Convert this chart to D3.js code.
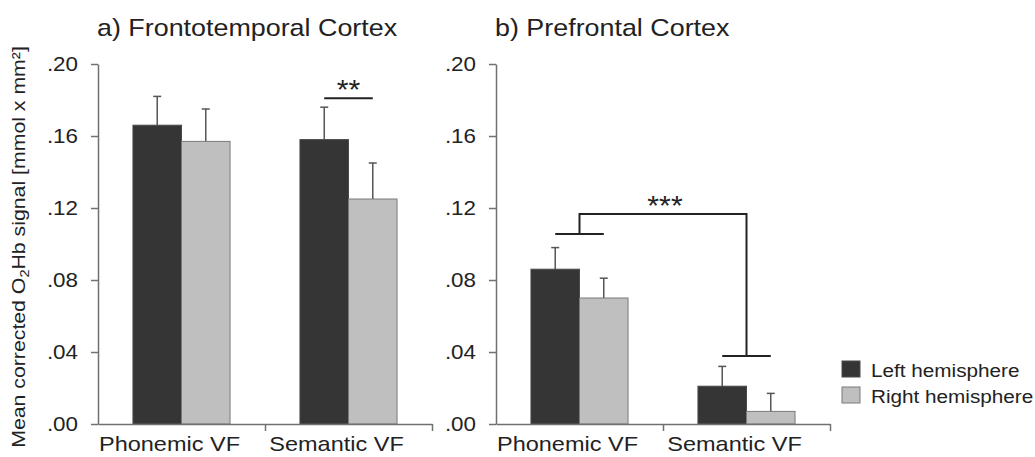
<!DOCTYPE html>
<html>
<head>
<meta charset="utf-8">
<script src="https://cdn.jsdelivr.net/npm/d3@7"></script>
<style>
  html, body { margin: 0; padding: 0; background: #fff; }
  svg { display: block; }
  text { font-family: "Liberation Sans", Arial, sans-serif; fill: #222; }
</style>
</head>
<body>
<div id="chart"></div>
<script>
const categories = ['Phonemic VF', 'Semantic VF'];
const series = ['Left hemisphere', 'Right hemisphere'];
const yTicks = [0, 0.04, 0.08, 0.12, 0.16, 0.20];

// a) Frontotemporal cortex
const frontoLeft = [0.166, 0.158];
const frontoLeftErr = [0.016, 0.018];
const frontoRight = [0.157, 0.125];
const frontoRightErr = [0.018, 0.020];

// b) Prefrontal cortex
const prefLeft = [0.086, 0.021];
const prefLeftErr = [0.012, 0.011];
const prefRight = [0.070, 0.007];
const prefRightErr = [0.011, 0.010];

// significance markers
const frontoSigLevel = 0.181;            // ** between hemispheres, Semantic VF
const prefSigLevels = [0.1056, 0.0378];  // group bars of *** bracket
const prefSigTop = 0.1167;

const colors = { 'Left hemisphere': '#353535', 'Right hemisphere': '#bfbfbf' };
const strokes = { 'Left hemisphere': '#4a4a4a', 'Right hemisphere': '#7a7a7a' };
const stretch = 1.12; // the original text is a bit wide

const svg = d3.select('#chart').append('svg')
  .attr('width', 1035)
  .attr('height', 457);

const y = d3.scaleLinear().domain([0, 0.20]).range([424, 64]);
const fmt = d => d3.format('.2f')(d).replace(/^0/, '');

function drawPanel(p) {
  const g = svg.append('g');
  const x0 = d3.scaleBand().domain(categories).range(p.range);
  const x1 = d3.scaleBand().domain(series).range([0, x0.bandwidth()]).paddingOuter(0.72);
  const xb = d3.scaleLinear().domain([0, categories.length]).range(p.range);
  const bw = x1.bandwidth();

  g.append('text')
    .attr('transform', `translate(${p.range[0] - 1},36) scale(${stretch},1)`)
    .style('font-size', '24px')
    .text(p.title);

  const rows = [];
  categories.forEach((c, i) => {
    series.forEach((s, j) => {
      rows.push({ cat: c, ser: s, value: p.values[j][i], err: p.errors[j][i] });
    });
  });

  // error bars (upper only)
  const eb = g.selectAll('.eb').data(rows).enter().append('g')
    .attr('stroke', '#555').attr('stroke-width', 1.5).attr('fill', 'none');
  eb.append('line')
    .attr('x1', d => x0(d.cat) + x1(d.ser) + bw / 2)
    .attr('x2', d => x0(d.cat) + x1(d.ser) + bw / 2)
    .attr('y1', d => y(d.value))
    .attr('y2', d => y(d.value + d.err));
  eb.append('line')
    .attr('x1', d => x0(d.cat) + x1(d.ser) + bw / 2 - 4)
    .attr('x2', d => x0(d.cat) + x1(d.ser) + bw / 2 + 4)
    .attr('y1', d => y(d.value + d.err))
    .attr('y2', d => y(d.value + d.err));

  g.selectAll('.bar').data(rows).enter().append('rect')
    .attr('x', d => x0(d.cat) + x1(d.ser))
    .attr('y', d => y(d.value))
    .attr('width', bw)
    .attr('height', d => y(0) - y(d.value))
    .attr('fill', d => colors[d.ser])
    .attr('stroke', d => strokes[d.ser])
    .attr('stroke-width', 1);

  // y axis
  const ya = g.append('g')
    .attr('transform', `translate(${p.range[0]},0)`)
    .call(d3.axisLeft(y).tickValues(yTicks).tickFormat(fmt).tickSize(7).tickSizeOuter(0));
  ya.selectAll('path, line').attr('stroke', '#707070').attr('stroke-width', 1.5);
  ya.selectAll('text')
    .attr('x', -20 / stretch)
    .attr('transform', `scale(${stretch},1)`)
    .style('font-size', '20px')
    .attr('fill', '#222');

  // x axis with ticks at category boundaries
  const xa = g.append('g')
    .attr('transform', `translate(0,${y(0)})`)
    .call(d3.axisBottom(xb).tickValues(d3.range(1, categories.length + 1)).tickFormat('').tickSize(7).tickSizeOuter(0));
  xa.selectAll('path, line').attr('stroke', '#707070').attr('stroke-width', 1.5);

  const xl = g.append('g')
    .attr('transform', `translate(0,${y(0)})`)
    .call(d3.axisBottom(x0).tickSize(0).tickPadding(12));
  xl.select('.domain').remove();
  xl.selectAll('text')
    .attr('x', -12 / stretch)
    .attr('transform', `scale(${stretch},1)`)
    .style('font-size', '21px')
    .attr('fill', '#222');

  p.sig(g, x0, x1, bw);
}

function stars(g, x, yy, label) {
  g.append('text')
    .attr('transform', `translate(${x},${yy}) scale(${stretch},1)`)
    .attr('text-anchor', 'middle')
    .style('font-size', '27px')
    .text(label);
}

drawPanel({
  title: 'a) Frontotemporal Cortex',
  range: [98, 432],
  values: [frontoLeft, frontoRight],
  errors: [frontoLeftErr, frontoRightErr],
  sig: (g, x0, x1, bw) => {
    const c = categories[1];
    const xa = x0(c) + x1(series[0]) + bw / 2;
    const xb = x0(c) + x1(series[1]) + bw / 2;
    g.append('line')
      .attr('x1', xa).attr('x2', xb)
      .attr('y1', y(frontoSigLevel)).attr('y2', y(frontoSigLevel))
      .attr('stroke', '#222').attr('stroke-width', 2);
    stars(g, (xa + xb) / 2, y(frontoSigLevel) + 1, '**');
  }
});

drawPanel({
  title: 'b) Prefrontal Cortex',
  range: [496, 830],
  values: [prefLeft, prefRight],
  errors: [prefLeftErr, prefRightErr],
  sig: (g, x0, x1, bw) => {
    const path = d3.path();
    const centers = categories.map(c => x0(c) + x0.bandwidth() / 2);
    categories.forEach((c, i) => {
      path.moveTo(x0(c) + x1(series[0]) + bw / 2, y(prefSigLevels[i]));
      path.lineTo(x0(c) + x1(series[1]) + bw / 2, y(prefSigLevels[i]));
    });
    path.moveTo(centers[0], y(prefSigLevels[0]));
    path.lineTo(centers[0], y(prefSigTop));
    path.lineTo(centers[1], y(prefSigTop));
    path.lineTo(centers[1], y(prefSigLevels[1]));
    g.append('path').attr('d', path.toString())
      .attr('fill', 'none').attr('stroke', '#222').attr('stroke-width', 2);
    stars(g, (centers[0] + centers[1]) / 2 + 2, y(prefSigTop) + 1, '***');
  }
});

// y axis title
const yt = svg.append('text')
  .attr('transform', `translate(25,247) rotate(-90) scale(${stretch},1)`)
  .attr('text-anchor', 'middle')
  .style('font-size', '19px');
yt.append('tspan').text('Mean corrected O');
yt.append('tspan').attr('dy', 4).style('font-size', '13px').text('2');
yt.append('tspan').attr('dy', -4).text('Hb signal [mmol x mm²]');

// legend
const lg = svg.append('g').attr('transform', 'translate(842,361)');
series.forEach((s, i) => {
  lg.append('rect')
    .attr('x', 0).attr('y', i * 26)
    .attr('width', 18).attr('height', 16)
    .attr('fill', colors[s]).attr('stroke', strokes[s]);
  lg.append('text')
    .attr('transform', `translate(29,${i * 26 + 16}) scale(${stretch},1)`)
    .style('font-size', '18.5px')
    .text(s);
});
</script>
</body>
</html>
